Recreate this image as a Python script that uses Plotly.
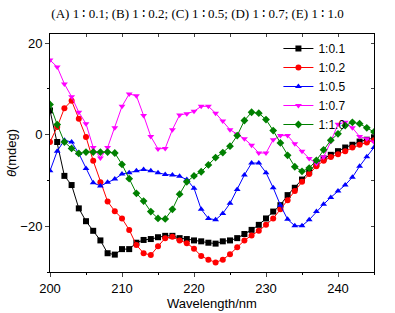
import plotly.graph_objects as go

wavelength = list(range(200, 246))

s_01 = [5.3, -1.6, -9.0, -11.0, -16.1, -18.9, -21.0, -23.1, -25.9, -26.2,
        -25.0, -25.0, -23.6, -23.0, -22.8, -22.4, -22.1, -22.1, -22.6, -22.8,
        -23.1, -23.3, -23.6, -23.8, -23.3, -23.1, -22.6, -21.7, -20.8, -19.7,
        -18.3, -16.8, -15.4, -13.2, -11.6, -9.8, -8.1, -6.3, -5.2, -4.4,
        -3.6, -2.8, -2.2, -1.5, -1.1, -0.7]
s_02 = [-1.6, 1.7, 5.8, 7.4, 3.5, -0.5, -5.7, -10.4, -14.6, -16.7,
        -18.3, -20.8, -24.1, -25.9, -26.3, -24.4, -22.6, -22.3, -23.1, -23.7,
        -24.9, -26.5, -27.3, -27.9, -27.3, -26.1, -24.6, -23.1, -22.0, -21.0,
        -19.7, -18.3, -16.3, -14.3, -12.3, -10.3, -8.6, -6.9, -5.7, -4.9,
        -4.3, -3.6, -2.8, -2.2, -1.7, -1.2]
s_05 = [-7.9, -3.6, -1.2, -1.6, -4.1, -7.4, -10.5, -11.2, -10.4, -9.7,
        -8.6, -8.3, -7.9, -7.6, -7.9, -8.3, -8.7, -8.8, -9.1, -9.8,
        -11.7, -16.3, -18.3, -18.6, -17.2, -15.0, -12.0, -8.8, -6.2, -6.2,
        -8.3, -11.6, -15.4, -18.5, -19.9, -19.9, -18.6, -16.8, -15.2, -13.7,
        -12.3, -11.0, -9.3, -6.9, -4.8, -2.8]
s_07 = [16.3, 14.8, 11.1, 8.3, 4.9, 2.4, -2.8, -5.1, -2.8, 1.5,
        6.2, 8.9, 8.5, 4.2, -0.4, -3.1, -3.0, 1.1, 4.3, 4.6,
        5.1, 6.2, 6.2, 4.7, 3.0, 1.1, 0.1, -0.9, -2.3, -4.0,
        -4.0, -1.1, -0.2, -0.2, -2.0, -3.6, -5.2, -6.3, -4.9, -1.5,
        2.3, 2.7, 1.5, -0.4, -0.9, -1.6]
s_10 = [6.6, 2.2, -1.6, -3.0, -4.1, -3.8, -3.8, -3.8, -3.8, -4.0,
        -6.5, -9.6, -12.8, -14.5, -16.8, -18.3, -18.4, -16.3, -13.0, -10.3,
        -9.0, -8.1, -6.6, -5.0, -3.9, -2.5, -0.2, 3.1, 4.9, 4.7,
        3.3, 0.9, -1.8, -4.5, -7.0, -8.0, -7.3, -5.6, -3.3, -1.2,
        0.2, 2.0, 2.7, 2.4, 1.5, 0.6]

series = [
    ("1:0.1", s_01, "#000000", "square"),
    ("1:0.2", s_02, "#ff0000", "circle"),
    ("1:0.5", s_05, "#0000ff", "triangle-up"),
    ("1:0.7", s_07, "#ff00ff", "triangle-down"),
    ("1:1.0", s_10, "#008000", "diamond"),
]

fig = go.Figure()
for name, vals, color, sym in series:
    fig.add_trace(go.Scatter(
        x=wavelength, y=vals, name=name, mode="lines+markers",
        line=dict(color=color, width=1),
        marker=dict(symbol=sym, size=6, color=color),
    ))

# invisible trace on mirrored axes for inward top/right ticks
fig.add_trace(go.Scatter(x=[200], y=[0], xaxis="x2", yaxis="y2",
                         showlegend=False, hoverinfo="skip",
                         mode="markers", marker=dict(opacity=0)))

axis_font = dict(family="Liberation Sans, Arial", size=13, color="#000")
fig.update_layout(
    width=395, height=313,
    margin=dict(l=50, r=21, t=34, b=41),
    paper_bgcolor="white", plot_bgcolor="white",
    title=dict(text="(A) 1 ∶ 0.1; (B) 1 ∶ 0.2; (C) 1 ∶ 0.5; (D) 1 ∶ 0.7; (E) 1 ∶ 1.0",
               x=0.5, xanchor="center", y=0.958, yanchor="middle",
               font=dict(family="Liberation Serif, DejaVu Serif, Times New Roman",
                         size=13, color="#000")),
    xaxis=dict(range=[200, 245], dtick=10, tick0=200, ticks="outside", ticklen=4,
               showline=True, linecolor="#000", linewidth=1, mirror=True,
               showgrid=False, zeroline=False, tickfont=axis_font, automargin=False,
               minor=dict(dtick=5, ticks="outside", ticklen=2, tickcolor="#000"),
               title=dict(text="Wavelength/nm", font=axis_font, standoff=0)),
    yaxis=dict(range=[-30, 22], tickvals=[-20, 0, 20], ticks="outside", ticklen=4,
               showline=True, linecolor="#000", linewidth=1, mirror=True,
               showgrid=False, zeroline=False, tickfont=axis_font, automargin=False,
               minor=dict(tickvals=[-30, -10, 10], ticks="outside", ticklen=2, tickcolor="#000"),
               title=dict(text="<i>θ</i>(mdeg)", font=axis_font, standoff=0)),
    xaxis2=dict(overlaying="x", side="top", matches="x", range=[200, 245],
                dtick=5, tick0=200, ticks="inside", ticklen=3, showticklabels=False,
                showgrid=False, zeroline=False, showline=False, automargin=False),
    yaxis2=dict(overlaying="y", side="right", range=[-30, 22],
                dtick=10, tick0=0, ticks="inside", ticklen=3, showticklabels=False,
                showgrid=False, zeroline=False, showline=False, automargin=False),
    legend=dict(x=0.705, y=1.0, xanchor="left", yanchor="top",
                bgcolor="rgba(255,255,255,0)", borderwidth=0,
                font=dict(family="Liberation Sans, Arial", size=12, color="#000"),
                tracegroupgap=0, itemwidth=30),
    showlegend=True,
)

fig.write_html("out.html", config={"displayModeBar": False},
               post_script="document.body.style.margin='0';")
